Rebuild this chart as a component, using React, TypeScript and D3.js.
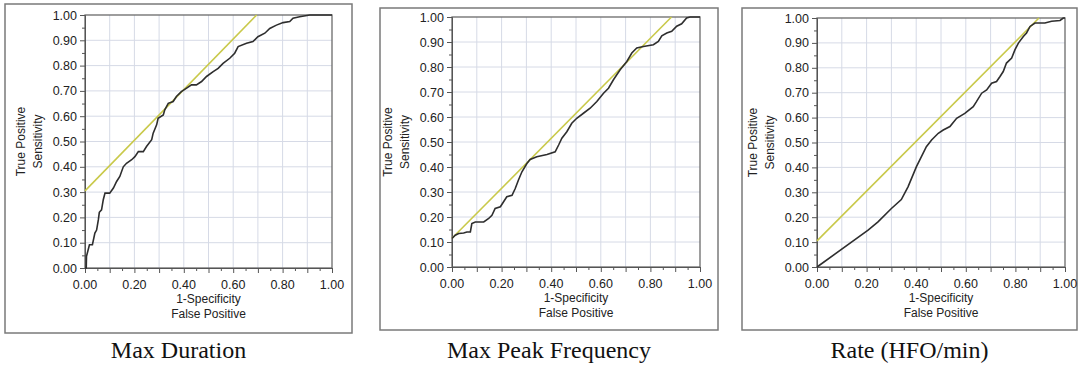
import React, { useEffect, useRef } from "react";
import * as d3 from "d3";

// ROC curves, as [1-specificity, sensitivity]
const durationRoc: [number, number][] = [
  [0, 0], [0.005, 0.0], [0.006, 0.046], [0.018, 0.092], [0.03, 0.092], [0.04, 0.138],
  [0.047, 0.15], [0.054, 0.19], [0.058, 0.22], [0.067, 0.23], [0.074, 0.27],
  [0.081, 0.296], [0.1, 0.296], [0.115, 0.316], [0.128, 0.342], [0.141, 0.362],
  [0.155, 0.4], [0.168, 0.414], [0.189, 0.428], [0.202, 0.44], [0.216, 0.46],
  [0.236, 0.46], [0.249, 0.48], [0.27, 0.507], [0.276, 0.533], [0.29, 0.566],
  [0.296, 0.592], [0.317, 0.605], [0.323, 0.625], [0.337, 0.651], [0.357, 0.658],
  [0.37, 0.678], [0.39, 0.697], [0.41, 0.71], [0.431, 0.724], [0.451, 0.724],
  [0.472, 0.737], [0.492, 0.757], [0.519, 0.776], [0.539, 0.789], [0.559, 0.809],
  [0.586, 0.829], [0.606, 0.849], [0.62, 0.875], [0.654, 0.888], [0.68, 0.895],
  [0.7, 0.914], [0.728, 0.928], [0.748, 0.947], [0.775, 0.96], [0.802, 0.97],
  [0.829, 0.974], [0.842, 0.987], [0.869, 0.993], [0.91, 1.0], [1.0, 1.0],
];

const peakFreqRoc: [number, number][] = [
  [0, 0.114], [0.013, 0.127], [0.027, 0.134], [0.047, 0.136], [0.06, 0.14],
  [0.074, 0.14], [0.08, 0.174], [0.094, 0.18], [0.128, 0.18], [0.148, 0.194],
  [0.161, 0.207], [0.174, 0.234], [0.195, 0.241], [0.208, 0.261], [0.221, 0.281],
  [0.242, 0.287], [0.255, 0.314], [0.268, 0.348], [0.282, 0.381], [0.302, 0.414],
  [0.315, 0.43], [0.342, 0.441], [0.383, 0.45], [0.416, 0.461], [0.43, 0.488],
  [0.443, 0.515], [0.463, 0.541], [0.483, 0.575], [0.503, 0.595], [0.53, 0.615],
  [0.557, 0.635], [0.584, 0.662], [0.611, 0.695], [0.631, 0.715], [0.651, 0.749],
  [0.678, 0.789], [0.705, 0.822], [0.725, 0.856], [0.745, 0.876], [0.772, 0.882],
  [0.812, 0.889], [0.832, 0.902], [0.846, 0.925], [0.866, 0.936], [0.886, 0.943],
  [0.906, 0.963], [0.926, 0.973], [0.946, 0.996], [0.96, 1.0], [1.0, 1.0],
];

const rateRoc: [number, number][] = [
  [0, 0], [0.206, 0.148], [0.246, 0.181], [0.3, 0.235], [0.34, 0.271],
  [0.367, 0.322], [0.401, 0.403], [0.441, 0.483], [0.462, 0.51], [0.489, 0.537],
  [0.509, 0.55], [0.536, 0.564], [0.563, 0.597], [0.596, 0.617], [0.63, 0.644],
  [0.643, 0.664], [0.664, 0.698], [0.684, 0.711], [0.704, 0.738], [0.724, 0.745],
  [0.738, 0.765], [0.751, 0.785], [0.764, 0.819], [0.785, 0.839], [0.798, 0.872],
  [0.812, 0.899], [0.832, 0.926], [0.845, 0.94], [0.859, 0.966], [0.879, 0.98],
  [0.919, 0.98], [0.946, 0.987], [0.98, 0.99], [0.993, 1.0], [1.0, 1.0],
];

// yellow tangent lines
const durationTangent: [number, number][] = [[0, 0.305], [0.695, 1.0]];
const peakFreqTangent: [number, number][] = [[0, 0.115], [0.885, 1.0]];
const rateTangent: [number, number][] = [[0, 0.105], [0.895, 1.0]];

const titles = ["Max Duration", "Max Peak Frequency", "Rate (HFO/min)"];
const majorTicks = d3.range(0, 11).map((i) => i / 10);
const minorTicks = d3.range(0, 10).map((i) => i / 10 + 0.05);
const xLabelTicks = d3.range(0, 6).map((i) => i / 5);

const panels = [
  { roc: durationRoc, tangent: durationTangent, box: [5, 4, 347, 329], plot: [85, 15, 332, 268] },
  { roc: peakFreqRoc, tangent: peakFreqTangent, box: [380, 8, 338, 322], plot: [452, 17, 700, 267] },
  { roc: rateRoc, tangent: rateTangent, box: [742, 8, 335, 322], plot: [817, 18, 1065, 267] },
];

export default function App() {
  const svgRef = useRef<SVGSVGElement>(null);

  useEffect(() => {
    if (!svgRef.current) return;
    const svg = d3.select(svgRef.current);
    svg.selectAll("*").remove();

    const font = "Liberation Sans, Arial, sans-serif";
    const fmt = d3.format(".2f");

    panels.forEach((p, idx) => {
      const [bx, by, bw, bh] = p.box;
      const [x0, y0, x1, y1] = p.plot;

      svg
        .append("rect")
        .attr("x", bx)
        .attr("y", by)
        .attr("width", bw)
        .attr("height", bh)
        .attr("fill", "#fff")
        .attr("stroke", "#7a7a7a")
        .attr("stroke-width", 1.5);

      const x = d3.scaleLinear().domain([0, 1]).range([x0, x1]);
      const y = d3.scaleLinear().domain([0, 1]).range([y1, y0]);

      const g = svg.append("g");

      // grid
      g.selectAll(".vgrid")
        .data(majorTicks.slice(1, -1))
        .enter()
        .append("line")
        .attr("x1", (d) => x(d))
        .attr("x2", (d) => x(d))
        .attr("y1", y0)
        .attr("y2", y1)
        .attr("stroke", "#d6dae6")
        .attr("stroke-width", 1);
      g.selectAll(".hgrid")
        .data(majorTicks.slice(1, -1))
        .enter()
        .append("line")
        .attr("x1", x0)
        .attr("x2", x1)
        .attr("y1", (d) => y(d))
        .attr("y2", (d) => y(d))
        .attr("stroke", "#d6dae6")
        .attr("stroke-width", 1);

      // frame
      g.append("rect")
        .attr("x", x0)
        .attr("y", y0)
        .attr("width", x1 - x0)
        .attr("height", y1 - y0)
        .attr("fill", "none")
        .attr("stroke", "#6a6a6a")
        .attr("stroke-width", 1.3);

      // y axis
      const yAxis = g.append("g").attr("transform", `translate(${x0},0)`);
      yAxis
        .call(d3.axisLeft(y).tickValues(majorTicks).tickSize(5).tickFormat((d) => fmt(d as number)))
        .call((a) => a.select(".domain").attr("stroke", "#555"));
      yAxis.append("g").call(d3.axisLeft(y).tickValues(minorTicks).tickSize(3).tickFormat(() => ""))
        .call((a) => a.select(".domain").remove());
      yAxis.selectAll("line").attr("stroke", "#555");
      yAxis.selectAll("text").style("font-family", font).style("font-size", "12.5px").attr("fill", "#222");

      // x axis
      const xAxis = g.append("g").attr("transform", `translate(0,${y1})`);
      xAxis
        .call(d3.axisBottom(x).tickValues(majorTicks).tickSize(5).tickFormat(() => ""))
        .call((a) => a.select(".domain").attr("stroke", "#555"));
      xAxis.append("g").call(d3.axisBottom(x).tickValues(minorTicks).tickSize(3).tickFormat(() => ""))
        .call((a) => a.select(".domain").remove());
      xAxis.selectAll("line").attr("stroke", "#555");
      g.selectAll(".xlab")
        .data(xLabelTicks)
        .enter()
        .append("text")
        .attr("x", (d) => x(d))
        .attr("y", y1 + 21)
        .attr("text-anchor", "middle")
        .style("font-family", font)
        .style("font-size", "12.5px")
        .attr("fill", "#222")
        .text((d) => fmt(d));

      // axis titles
      const ym = (y0 + y1) / 2;
      ["True Positive", "Sensitivity"].forEach((t, i) => {
        g.append("text")
          .attr("transform", `translate(${x0 - 60 + i * 17},${ym}) rotate(-90)`)
          .attr("text-anchor", "middle")
          .style("font-family", font)
          .style("font-size", "12px")
          .attr("fill", "#222")
          .text(t);
      });
      ["1-Specificity", "False Positive"].forEach((t, i) => {
        g.append("text")
          .attr("x", (x0 + x1) / 2)
          .attr("y", y1 + 35 + i * 15)
          .attr("text-anchor", "middle")
          .style("font-family", font)
          .style("font-size", "12px")
          .attr("fill", "#222")
          .text(t);
      });

      const line = d3
        .line<[number, number]>()
        .x((d) => x(d[0]))
        .y((d) => y(d[1]));

      g.append("path")
        .attr("d", line(p.tangent))
        .attr("fill", "none")
        .attr("stroke", "#c9c94a")
        .attr("stroke-width", 1.6);

      g.append("path")
        .attr("d", line(p.roc))
        .attr("fill", "none")
        .attr("stroke", "#2e2e2e")
        .attr("stroke-width", 1.6);

      svg
        .append("text")
        .attr("x", bx + bw / 2)
        .attr("y", 358)
        .attr("text-anchor", "middle")
        .style("font-family", "Liberation Serif, Times New Roman, serif")
        .style("font-size", "24px")
        .attr("fill", "#111")
        .text(titles[idx]);
    });
  }, []);

  return (
    <svg
      ref={svgRef}
      width={1078}
      height={365}
      style={{ position: "absolute", left: 0, top: 0, background: "#fff" }}
    />
  );
}
